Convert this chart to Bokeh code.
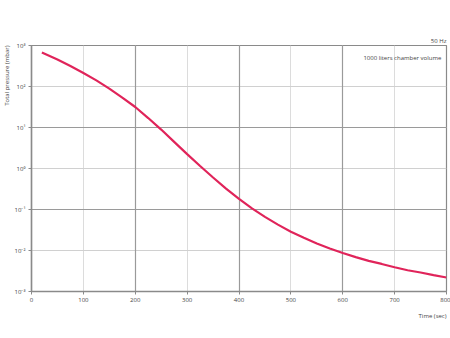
from bokeh.plotting import figure
from bokeh.models import Grid, FixedTicker, Label, Range1d, Title
from bokeh.embed import file_html
from bokeh.resources import INLINE

time_s = [20, 50, 75, 100, 125, 150, 175, 200, 225, 250, 275, 300, 325, 350, 375, 400,
          425, 450, 475, 500, 525, 550, 575, 600, 625, 650, 675, 700, 725, 750, 775, 800]
pressure_mbar = [676, 457, 316, 214, 141, 89, 53.7, 31.6, 17.0, 8.9, 4.47, 2.24, 1.15,
                 0.603, 0.324, 0.182, 0.107, 0.066, 0.0427, 0.0288, 0.0204, 0.0148,
                 0.0112, 0.0087, 0.0069, 0.0056, 0.0047, 0.0039, 0.0033, 0.0029,
                 0.0025, 0.0022]
x_ticks = [0, 100, 200, 300, 400, 500, 600, 700, 800]
y_ticks = [1e-3, 1e-2, 1e-1, 1e0, 1e1, 1e2, 1e3]
y_tick_labels = ["10⁻³", "10⁻²", "10⁻¹", "10⁰", "10¹", "10²", "10³"]
x_title = "Time (sec)"
y_title = "Total pressure (mbar)"
freq_text = "50 Hz"
volume_text = "1000 liters chamber volume"

FONT = "Open Sans"
TXT = "#444444"
p = figure(width=450, height=338, y_axis_type="log",
           x_range=Range1d(0, 800), y_range=Range1d(1e-3, 1e3),
           output_backend="svg", toolbar_location=None,
           min_border_left=0, min_border_right=4, min_border_top=45, min_border_bottom=47)
p.background_fill_color = "white"
p.border_fill_color = "white"
p.outline_line_color = "#8a8a8a"
p.outline_line_width = 1.2

for ax in (p.xaxis[0], p.yaxis[0]):
    ax.axis_line_color = "#8a8a8a"
    ax.axis_line_width = 1.5
    ax.major_tick_line_color = "#8a8a8a"
    ax.major_tick_in = 0
    ax.major_tick_out = 3
    ax.minor_tick_line_color = None
    ax.major_label_text_font = FONT
    ax.major_label_text_font_size = "6px"
    ax.major_label_text_color = TXT
    ax.major_label_standoff = 3

p.xaxis.ticker = FixedTicker(ticks=x_ticks)
p.yaxis.ticker = FixedTicker(ticks=y_ticks)
p.yaxis.major_label_overrides = {t: l for t, l in zip(y_ticks, y_tick_labels)}

p.xgrid.ticker = FixedTicker(ticks=x_ticks)
p.xgrid.grid_line_color = "#dcdcdc"
p.ygrid.ticker = FixedTicker(ticks=y_ticks)
p.ygrid.grid_line_color = "#d0d0d0"
p.add_layout(Grid(dimension=0, ticker=FixedTicker(ticks=[200, 400, 600]),
                  grid_line_color="#9a9a9a", grid_line_width=1.2))
p.add_layout(Grid(dimension=1, ticker=FixedTicker(ticks=[1e1, 1e-1]),
                  grid_line_color="#9a9a9a", grid_line_width=1.2))

p.line(time_s, pressure_mbar, line_color="#e0245a", line_width=2.2)

p.add_layout(Label(x=790, y=1e3, text=volume_text, text_font=FONT, text_font_size="6px",
                   text_color=TXT, text_align="right", text_baseline="top",
                   y_offset=-8))

p.add_layout(Title(text=freq_text, align="right", text_font=FONT, text_font_size="6px",
                   text_color=TXT, text_font_style="normal", standoff=2), "above")
p.add_layout(Title(text=x_title, align="right", text_font=FONT, text_font_size="6px",
                   text_color=TXT, text_font_style="normal", standoff=10), "below")
p.add_layout(Title(text=y_title, align="right", text_font=FONT, text_font_size="6px",
                   text_color=TXT, text_font_style="normal", standoff=1), "left")

open("out.html", "w").write(file_html(p, INLINE))
